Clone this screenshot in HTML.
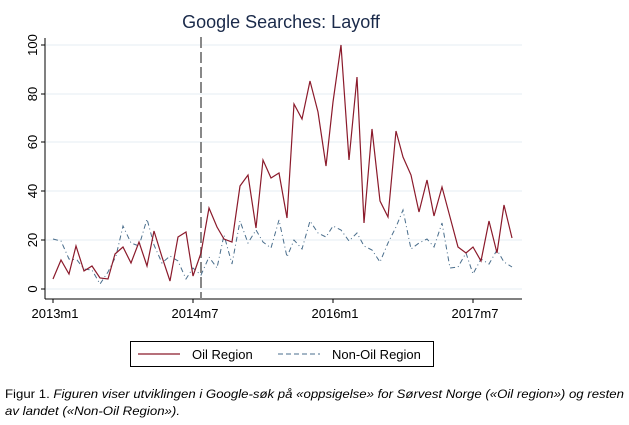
<!DOCTYPE html>
<html><head><meta charset="utf-8"><style>html,body{margin:0;padding:0;background:#fff}svg{display:block}</style></head>
<body>
<svg width="629" height="425" viewBox="0 0 629 425" xmlns="http://www.w3.org/2000/svg" font-family="Liberation Sans, sans-serif">
<rect width="629" height="425" fill="#fff"/>
<text x="281" y="28" text-anchor="middle" font-size="18" fill="#1a2a4a">Google Searches: Layoff</text>
<g stroke="#e4eef3" stroke-width="1">
<line x1="46" y1="289" x2="522" y2="289"/><line x1="46" y1="240" x2="522" y2="240"/><line x1="46" y1="191" x2="522" y2="191"/><line x1="46" y1="142" x2="522" y2="142"/><line x1="46" y1="94" x2="522" y2="94"/><line x1="46" y1="45" x2="522" y2="45"/>
</g>
<g stroke="#000" stroke-width="1">
<line x1="45" y1="38" x2="45" y2="299"/><line x1="45" y1="299" x2="522" y2="299"/>
<line x1="41" y1="289" x2="45" y2="289"/><line x1="41" y1="240" x2="45" y2="240"/><line x1="41" y1="191" x2="45" y2="191"/><line x1="41" y1="142" x2="45" y2="142"/><line x1="41" y1="94" x2="45" y2="94"/><line x1="41" y1="45" x2="45" y2="45"/>
<line x1="53" y1="299" x2="53" y2="303"/><line x1="193" y1="299" x2="193" y2="303"/><line x1="333" y1="299" x2="333" y2="303"/><line x1="473" y1="299" x2="473" y2="303"/>
</g>
<g font-size="13" fill="#000" text-anchor="middle">
<text transform="translate(37,289) rotate(-90)">0</text>
<text transform="translate(37,240) rotate(-90)">20</text>
<text transform="translate(37,191) rotate(-90)">40</text>
<text transform="translate(37,142) rotate(-90)">60</text>
<text transform="translate(37,94) rotate(-90)">80</text>
<text transform="translate(37,45) rotate(-90)">100</text>
<text x="55" y="318">2013m1</text><text x="195" y="318">2014m7</text><text x="335" y="318">2016m1</text><text x="475" y="318">2017m7</text>
</g>
<line x1="201" y1="37" x2="201" y2="299" stroke="#888" stroke-width="2" stroke-dasharray="11,4"/>
<polyline fill="none" stroke="#4a6e8c" stroke-width="1" stroke-dasharray="5,3,1,3" points="53,239 61,241 69,259 77,260 84,269 92,270 100,284 108,272 116,256 123,226 131,243 139,246 147,219 154,245 162,263 170,256 178,261 186,279 193,268 201,275 209,257 217,268 224,235 232,264 240,221 248,243 256,230 263,242 271,248 279,220 287,257 294,240 302,249 310,221 318,233 326,237 333,226 341,230 349,241 357,233 364,246 372,250 380,262 388,243 396,227 403,210 411,249 419,243 427,239 434,247 442,223 450,268 458,267 466,253 473,274 481,259 489,264 497,250 504,262 512,267"/>
<polyline fill="none" stroke="#8b1a2b" stroke-width="1.2" points="53,279 61,260 69,274 76,246 84,271 92,266 100,278 108,279 115,254 123,247 131,263 139,242 147,266 154,231 162,257 170,281 178,237 186,232 193,276 201,253 209,208 217,227 224,239 232,242 240,186 248,175 256,228 263,160 271,178 279,173 287,218 294,104 302,119 310,81 318,112 326,166 333,102 341,45 349,160 357,77 364,223 372,129 380,201 388,217 396,131 403,157 411,175 419,212 427,180 434,216 442,187 450,217 458,247 466,253 473,247 481,261 489,221 497,253 504,205 512,238"/>
<rect x="130.5" y="341.5" width="303" height="25" fill="none" stroke="#000" stroke-width="1"/>
<line x1="138" y1="354" x2="180" y2="354" stroke="#8b1a2b" stroke-width="1.2"/>
<text x="192" y="359" font-size="13">Oil Region</text>
<line x1="278" y1="354" x2="320" y2="354" stroke="#4a6e8c" stroke-width="1" stroke-dasharray="5,3"/>
<text x="332" y="359" font-size="13">Non-Oil Region</text>
<text x="5" y="398" font-size="12" textLength="619" lengthAdjust="spacingAndGlyphs">Figur 1. <tspan font-style="italic">Figuren viser utviklingen i Google-søk på «oppsigelse» for Sørvest Norge («Oil region») og resten</tspan></text>
<text x="5" y="415" font-size="12" font-style="italic" textLength="175" lengthAdjust="spacingAndGlyphs">av landet («Non-Oil Region»).</text>
</svg>
</body></html>
